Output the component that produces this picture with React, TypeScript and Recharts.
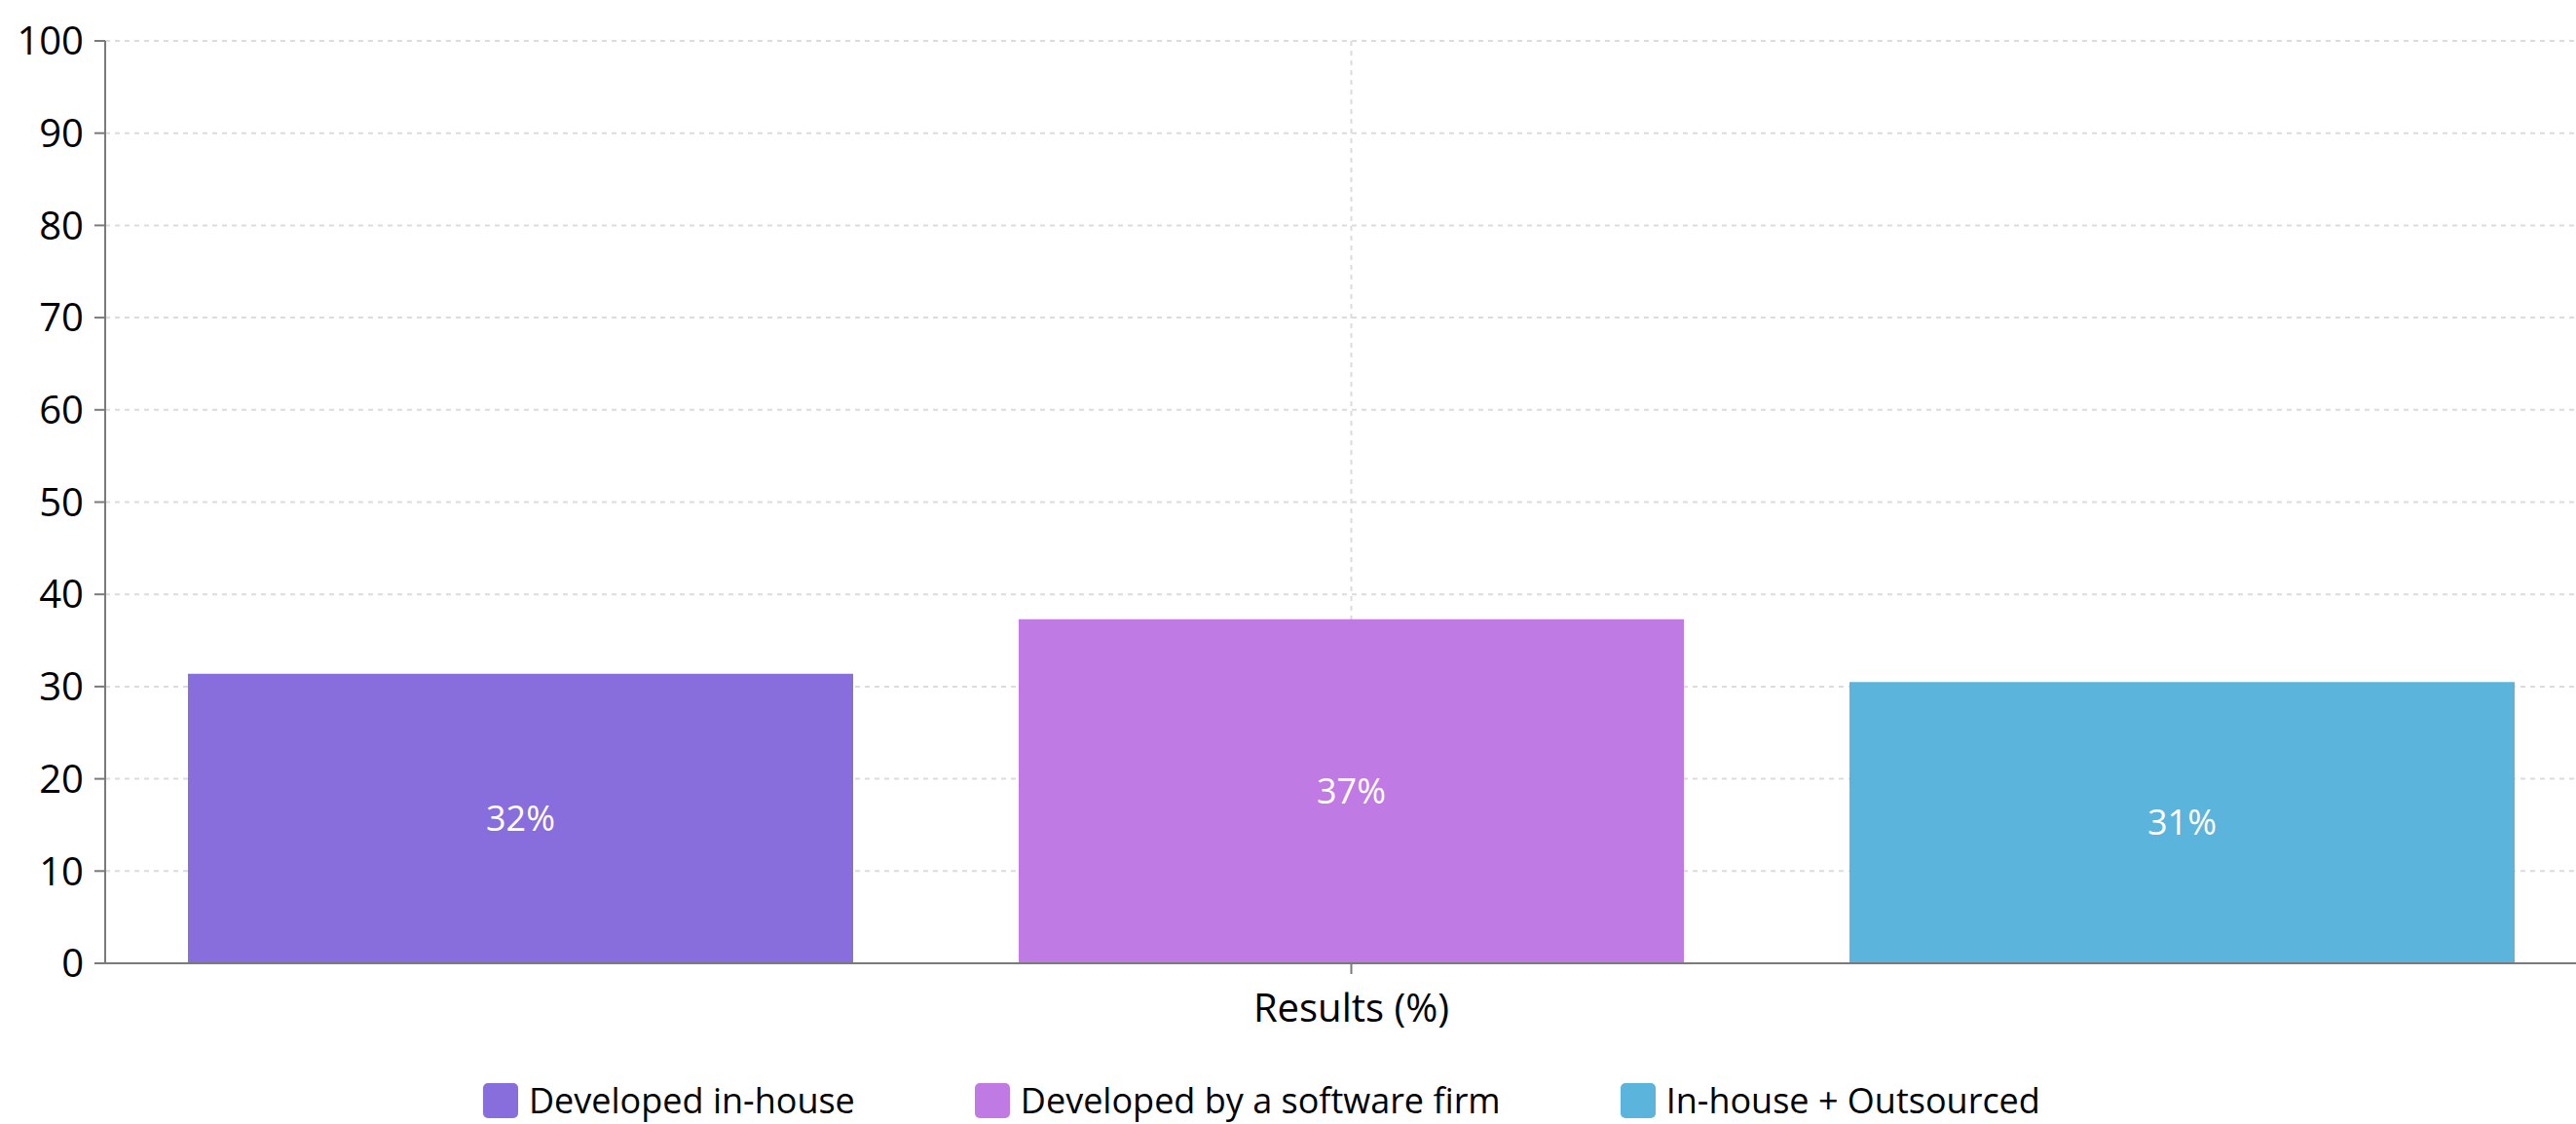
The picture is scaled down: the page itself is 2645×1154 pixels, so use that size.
import { BarChart, Bar, XAxis, YAxis, CartesianGrid, Legend, LabelList } from 'recharts';

// one category, three series
const categories = ['Results (%)'];
const seriesNames = ['Developed in-house', 'Developed by a software firm', 'In-house + Outsourced'];
const seriesKeys = ['inHouse', 'softwareFirm', 'mixed'];
const seriesValues = [31.4, 37.3, 30.5];
const barLabels = ['32%', '37%', '31%'];
const seriesColors = ['#886edc', '#bf7ae3', '#5ab4db'];
const yTicks = [0, 10, 20, 30, 40, 50, 60, 70, 80, 90, 100];

const FONT = '"Open Sans", "Noto Sans", sans-serif';

const data = categories.map((name) => {
    const row: Record<string, string | number> = { name };
    seriesKeys.forEach((k, i) => {
        row[k] = seriesValues[i];
    });
    return row;
});

function LegendContent() {
    return (
        <div style={{ height: 50, boxSizing: 'border-box', paddingTop: 2, display: 'flex', alignItems: 'center', paddingLeft: 496, fontFamily: FONT }}>
            {seriesNames.map((n, i) => (
                <div key={n} style={{ display: 'flex', alignItems: 'center', marginRight: i < seriesNames.length - 1 ? 123 : 0 }}>
                    <span style={{ width: 36, height: 36, borderRadius: 5, background: seriesColors[i], display: 'inline-block', marginRight: 11 }} />
                    <span style={{ fontSize: 36, color: '#000', lineHeight: '44px' }}>{n}</span>
                </div>
            ))}
        </div>
    );
}

export default function App() {
    return (
        <div style={{ position: 'fixed', left: 0, top: 0, width: 2645, height: 1154, overflow: 'hidden', background: '#fff' }}>
            <BarChart
                width={2700}
                height={1154}
                data={data}
                margin={{ top: 42, right: 33, left: 0, bottom: 0 }}
                barSize={683}
                barGap={170}
                style={{ fontFamily: FONT }}
            >
                <CartesianGrid stroke="#dcdcdc" strokeDasharray="5 5" strokeWidth={2} />
                <XAxis
                    dataKey="name"
                    height={115}
                    tickSize={11}
                    tickMargin={21}
                    stroke="#7a7a7a"
                    strokeWidth={2}
                    tick={{ fill: '#000', fontSize: 40 }}
                />
                <YAxis
                    width={108}
                    domain={[0, 100]}
                    ticks={yTicks}
                    tickSize={11}
                    tickMargin={11}
                    stroke="#7a7a7a"
                    strokeWidth={2}
                    tick={{ fill: '#000', fontSize: 40 }}
                />
                <Legend verticalAlign="bottom" content={LegendContent} />
                {seriesKeys.map((k, i) => (
                    <Bar key={k} dataKey={k} name={seriesNames[i]} fill={seriesColors[i]} isAnimationActive={false}>
                        <LabelList
                            dataKey={k}
                            position="center"
                            fill="#fff"
                            fontSize={36}
                            formatter={() => barLabels[i]}
                        />
                    </Bar>
                ))}
            </BarChart>
        </div>
    );
}
